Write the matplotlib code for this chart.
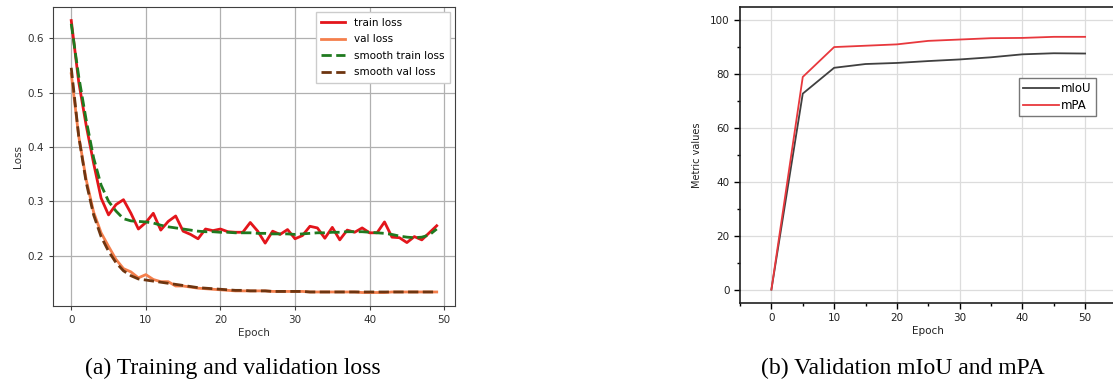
import matplotlib.pyplot as plt
from matplotlib.ticker import MultipleLocator

# Loss per epoch
epochs = list(range(50))
train_loss = [0.633, 0.52, 0.44, 0.37, 0.306, 0.275, 0.294, 0.303, 0.278, 0.249,
              0.261, 0.278, 0.247, 0.263, 0.273, 0.245, 0.239, 0.231, 0.249, 0.246,
              0.249, 0.244, 0.243, 0.243, 0.261, 0.245, 0.223, 0.245, 0.239, 0.248,
              0.231, 0.237, 0.254, 0.251, 0.232, 0.252, 0.229, 0.247, 0.243, 0.251,
              0.242, 0.242, 0.262, 0.234, 0.233, 0.224, 0.235, 0.229, 0.242, 0.255]
val_loss = [0.535, 0.42, 0.34, 0.28, 0.242, 0.217, 0.193, 0.176, 0.170, 0.159,
            0.165, 0.156, 0.152, 0.152, 0.144, 0.144, 0.142, 0.140, 0.139, 0.138,
            0.137, 0.136, 0.135, 0.135, 0.135, 0.135, 0.135, 0.134, 0.134, 0.134,
            0.134, 0.134, 0.133, 0.133, 0.133, 0.133, 0.133, 0.133, 0.133, 0.132,
            0.132, 0.132, 0.132, 0.133, 0.133, 0.133, 0.133, 0.133, 0.133, 0.133]
smooth_train = [0.627, 0.53, 0.45, 0.38, 0.33, 0.300, 0.282, 0.268, 0.264, 0.263,
                0.262, 0.260, 0.256, 0.253, 0.251, 0.249, 0.247, 0.245, 0.244, 0.244,
                0.243, 0.243, 0.242, 0.242, 0.242, 0.241, 0.241, 0.240, 0.240, 0.240,
                0.239, 0.240, 0.241, 0.242, 0.242, 0.243, 0.243, 0.244, 0.244, 0.244,
                0.243, 0.242, 0.241, 0.239, 0.236, 0.234, 0.233, 0.234, 0.238, 0.249]
smooth_val = [0.546, 0.42, 0.335, 0.275, 0.235, 0.208, 0.187, 0.172, 0.163, 0.157,
              0.155, 0.153, 0.151, 0.149, 0.147, 0.145, 0.143, 0.141, 0.140, 0.139,
              0.138, 0.137, 0.136, 0.136, 0.135, 0.135, 0.135, 0.134, 0.134, 0.134,
              0.134, 0.134, 0.133, 0.133, 0.133, 0.133, 0.133, 0.133, 0.133, 0.133,
              0.133, 0.133, 0.133, 0.133, 0.133, 0.133, 0.133, 0.133, 0.133, 0.133]

# Validation metrics every 5 epochs
metric_epochs = [0, 5, 10, 15, 20, 25, 30, 35, 40, 45, 50]
miou = [0, 72.8, 82.4, 83.8, 84.2, 84.9, 85.5, 86.3, 87.4, 87.8, 87.7]
mpa = [0, 79.0, 90.1, 90.6, 91.1, 92.4, 92.9, 93.4, 93.5, 93.9, 93.9]

fig = plt.figure(figsize=(11.13, 3.87), dpi=100)

# --- (a) loss curves ---
ax1 = fig.add_axes([0.0476, 0.209, 0.3612, 0.773])
ax1.plot(epochs, train_loss, color="#e3151b", lw=2, label="train loss")
ax1.plot(epochs, val_loss, color="#f47f4c", lw=2, label="val loss")
ax1.plot(epochs, smooth_train, color="#1f7a1f", lw=2, ls="--", label="smooth train loss")
ax1.plot(epochs, smooth_val, color="#6e3510", lw=2, ls="--", label="smooth val loss")
ax1.set_xticks([0, 10, 20, 30, 40, 50])
ax1.set_yticks([0.2, 0.3, 0.4, 0.5, 0.6])
ax1.grid(True, color="#b0b0b0", lw=0.9)
ax1.tick_params(labelsize=7.5, color="#404040", labelcolor="#303030", length=3)
for s in ax1.spines.values():
    s.set_color("#404040")
ax1.set_xlabel("Epoch", fontsize=7.5, color="#303030", labelpad=2)
ax1.set_ylabel("Loss", fontsize=7.5, color="#303030", labelpad=3)
ax1.legend(loc="upper right", fontsize=7.5, handlelength=2.3, borderpad=0.55,
           labelspacing=0.62, fancybox=False, framealpha=1, edgecolor="#cccccc")

# --- (b) validation metrics, Origin-like styling ---
ax2 = fig.add_axes([0.6649, 0.217, 0.3382, 0.765])
ax2.plot(metric_epochs, miou, color="#404040", lw=1.3, label="mIoU")
ax2.plot(metric_epochs, mpa, color="#e8383d", lw=1.3, label="mPA")
ax2.set_xlim(-5, 55)
ax2.set_ylim(-5, 105)
ax2.xaxis.set_major_locator(MultipleLocator(10))
ax2.xaxis.set_minor_locator(MultipleLocator(5))
ax2.yaxis.set_major_locator(MultipleLocator(20))
ax2.yaxis.set_minor_locator(MultipleLocator(10))
ax2.grid(True, which="major", color="#dcdcdc", lw=0.9)
ax2.tick_params(which="major", direction="out", length=4, width=1, labelsize=7.5,
                labelcolor="#202020")
ax2.tick_params(which="minor", direction="out", length=2.5, width=1)
for s in ax2.spines.values():
    s.set_linewidth(1.2)
    s.set_color("#202020")
ax2.set_xlabel("Epoch", fontsize=7.5, color="#202020", labelpad=2)
ax2.set_ylabel("Metric values", fontsize=7, color="#202020", labelpad=6)
ax2.legend(loc="upper left", bbox_to_anchor=(0.741, 0.760), borderaxespad=0,
           fontsize=8.5, handlelength=3.0, handletextpad=0.2, borderpad=0.35,
           labelspacing=0.35, fancybox=False, framealpha=1, edgecolor="#777777")

# captions
fig.text(0.2093, 0.034, "(a) Training and validation loss", ha="center", va="baseline",
         family="Liberation Serif", fontsize=17)
fig.text(0.8113, 0.034, "(b) Validation mIoU and mPA", ha="center", va="baseline",
         family="Liberation Serif", fontsize=17)

plt.savefig("out.png", dpi=100)
